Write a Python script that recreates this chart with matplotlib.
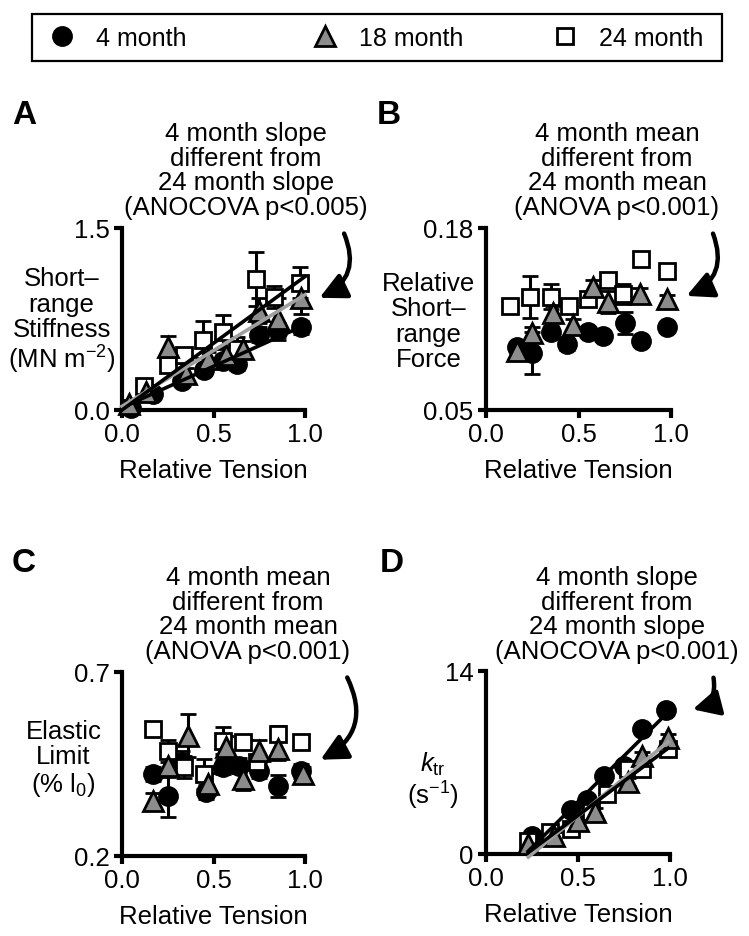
import numpy as np
import matplotlib.pyplot as plt
from matplotlib.patches import FancyArrowPatch, Rectangle
from matplotlib.lines import Line2D

plt.rcParams['font.family'] = ['Liberation Sans', 'DejaVu Sans']
plt.rcParams['font.size'] = 18.5
plt.rcParams['mathtext.fontset'] = 'custom'
plt.rcParams['mathtext.rm'] = 'Liberation Sans'
plt.rcParams['mathtext.it'] = 'Liberation Sans:italic'

groups = ['4 month', '18 month', '24 month']

# ---- Panel A: short-range stiffness
a_x = [[0.05, 0.17, 0.33, 0.45, 0.55, 0.63, 0.75, 0.85, 0.98],
       [0.04, 0.13, 0.25, 0.35, 0.47, 0.57, 0.66, 0.75, 0.85, 0.98],
       [0.12, 0.25, 0.34, 0.44, 0.55, 0.63, 0.73, 0.83, 0.97]]
a_y = [[0.02, 0.13, 0.24, 0.33, 0.40, 0.38, 0.62, 0.66, 0.68],
       [0.05, 0.15, 0.52, 0.30, 0.42, 0.45, 0.50, 0.82, 0.75, 0.92],
       [0.20, 0.37, 0.45, 0.58, 0.64, 0.50, 1.08, 0.93, 1.05]]
a_err = [[0.02, 0.03, 0.03, 0.04, 0.05, 0.05, 0.06, 0.06, 0.05],
         [0.03, 0.03, 0.09, 0.05, 0.06, 0.06, 0.07, 0.10, 0.17, 0.13],
         [0.03, 0.05, 0.06, 0.15, 0.14, 0.10, 0.22, 0.09, 0.13]]
a_fit = [(0.02, 0.68), (0.03, 0.92), (0.00, 1.10)]   # (intercept, slope)

# ---- Panel B: relative short-range force
b_x = [[0.17, 0.25, 0.35, 0.44, 0.55, 0.63, 0.75, 0.84, 0.98],
       [0.17, 0.25, 0.36, 0.47, 0.58, 0.66, 0.83, 0.98],
       [0.13, 0.24, 0.35, 0.45, 0.55, 0.66, 0.74, 0.84, 0.98]]
b_y = [[0.095, 0.091, 0.106, 0.097, 0.106, 0.103, 0.112, 0.099, 0.109],
       [0.092, 0.105, 0.119, 0.111, 0.138, 0.127, 0.133, 0.129],
       [0.124, 0.131, 0.131, 0.124, 0.129, 0.143, 0.133, 0.158, 0.149]]
b_err = [[0.003, 0.015, 0.004, 0.004, 0.003, 0.003, 0.008, 0.003, 0.003],
         [0.003, 0.004, 0.005, 0.004, 0.005, 0.008, 0.004, 0.003],
         [0.004, 0.015, 0.009, 0.004, 0.004, 0.004, 0.007, 0.004, 0.003]]

# ---- Panel C: elastic limit
c_x = [[0.17, 0.25, 0.33, 0.46, 0.55, 0.64, 0.75, 0.85, 0.98],
       [0.17, 0.25, 0.36, 0.47, 0.57, 0.66, 0.75, 0.85, 0.99],
       [0.17, 0.25, 0.34, 0.45, 0.55, 0.66, 0.74, 0.85, 0.98]]
c_y = [[0.423, 0.363, 0.455, 0.374, 0.442, 0.445, 0.431, 0.390, 0.431],
       [0.350, 0.445, 0.527, 0.396, 0.496, 0.409, 0.486, 0.490, 0.423],
       [0.545, 0.486, 0.441, 0.423, 0.513, 0.510, 0.455, 0.532, 0.510]]
c_err = [[0.02, 0.057, 0.03, 0.02, 0.02, 0.02, 0.02, 0.03, 0.02],
         [0.02, 0.03, 0.059, 0.03, 0.03, 0.03, 0.03, 0.03, 0.02],
         [0.019, 0.03, 0.03, 0.04, 0.037, 0.02, 0.02, 0.02, 0.02]]

# ---- Panel D: ktr
d_x = [[0.25, 0.46, 0.55, 0.64, 0.75, 0.85, 0.98],
       [0.23, 0.37, 0.50, 0.59, 0.77, 0.85, 0.99],
       [0.23, 0.35, 0.46, 0.57, 0.66, 0.77, 0.85, 0.99]]
d_y = [[1.4, 3.4, 4.1, 6.0, 6.7, 9.6, 11.0],
       [0.8, 1.4, 2.5, 3.2, 5.5, 7.5, 8.9],
       [1.0, 1.7, 1.9, 3.2, 4.6, 6.5, 6.5, 8.0]]
d_err = [[0.3] * 7, [0.3] * 7, [0.3] * 8]
d_fit = [(-3.0, 14.0), (-2.9, 11.6), (-2.3, 10.5)]

notes = ['4 month slope\ndifferent from\n24 month slope\n(ANOCOVA p<0.005)',
         '4 month mean\ndifferent from\n24 month mean\n(ANOVA p<0.001)',
         '4 month mean\ndifferent from\n24 month mean\n(ANOVA p<0.001)',
         '4 month slope\ndifferent from\n24 month slope\n(ANOCOVA p<0.001)']
ylabels = ['Short\u2013\nrange\nStiffness\n(MN m$^{-2}$)',
           'Relative\nShort\u2013\nrange\nForce',
           'Elastic\nLimit\n(% l$_0$)',
           '$k_{\\rm tr}$\n(s$^{-1}$)']
ylabel_pos = [(-0.33, 0.49), (-0.31, 0.49), (-0.32, 0.53), (-0.29, 0.40)]
letters = ['A', 'B', 'C', 'D']
ylims = [(0.0, 1.5), (0.05, 0.18), (0.2, 0.7), (0, 14)]
yticklabels = [['0.0', '1.5'], ['0.05', '0.18'], ['0.2', '0.7'], ['0', '14']]

styles = [dict(marker='o', mfc='black', ms=13),
          dict(marker='^', mfc='#8c8c8c', ms=14),
          dict(marker='s', mfc='white', ms=11.5)]
fit_colors = ['black', '#a0a0a0', 'black']
draw_order = [0, 2, 1]

W, H = 749, 937
fig = plt.figure(figsize=(W / 100, H / 100), dpi=100)

def px_axes(l, t, r, b):
    return fig.add_axes([l / W, 1 - b / H, (r - l) / W, (b - t) / H])

axes = [px_axes(122, 229, 305, 411), px_axes(486, 229, 671, 411),
        px_axes(122, 673, 305, 857), px_axes(486, 672, 670, 855)]

data = [(a_x, a_y, a_err), (b_x, b_y, b_err), (c_x, c_y, c_err), (d_x, d_y, d_err)]
fits = [a_fit, None, None, d_fit]
fit_x = [(0.0, 1.0), None, None, (0.23, 0.99)]

for k, ax in enumerate(axes):
    xs, ys, es = data[k]
    for g in draw_order:
        ax.errorbar(xs[g], ys[g], yerr=es[g], ls='none', color='black',
                    elinewidth=2.2, capsize=6, capthick=2.2, mec='black', mew=2,
                    clip_on=False, zorder=3, **styles[g])
    if fits[k] is not None:
        xx = np.array(fit_x[k])
        for g in range(3):
            b0, m = fits[k][g]
            ax.plot(xx, b0 + m * xx, color=fit_colors[g], lw=2.6, zorder=4,
                    clip_on=False)
    ax.set_xlim(0, 1)
    ax.set_ylim(*ylims[k])
    ax.set_xticks([0, 0.5, 1.0])
    ax.set_xticklabels(['0.0', '0.5', '1.0'])
    ax.set_yticks(ylims[k])
    ax.set_yticklabels(yticklabels[k])
    for s in ['top', 'right']:
        ax.spines[s].set_visible(False)
    for s in ['left', 'bottom']:
        ax.spines[s].set_linewidth(3)
    ax.tick_params(width=3, length=6, pad=3, labelsize=18.5)
    ax.set_xlabel('Relative Tension', labelpad=8)
    ax.text(ylabel_pos[k][0], ylabel_pos[k][1], ylabels[k],
            transform=ax.transAxes, ha='center', va='center', linespacing=1.08)

# panel letters and notes (figure pixels)
letter_pos = [(24, 116), (389, 116), (24, 563), (392, 563)]
note_pos = [(246, 171), (617, 171), (248, 615), (617, 615)]
for k in range(4):
    fig.text(letter_pos[k][0] / W, 1 - letter_pos[k][1] / H, letters[k],
             fontsize=24, fontweight='bold', ha='center', va='center')
    fig.text(note_pos[k][0] / W, 1 - note_pos[k][1] / H, notes[k],
             ha='center', va='center', linespacing=1.05)

arrows = [((343, 232), (317, 300)), ((712, 232), (684, 298)),
          ((346, 676), (318, 762)), ((713, 676), (690, 711))]
for (x0, y0), (x1, y1) in arrows:
    fig.add_artist(FancyArrowPatch((x0 / W, 1 - y0 / H), (x1 / W, 1 - y1 / H),
                                   transform=fig.transFigure,
                                   connectionstyle='arc3,rad=-0.5',
                                   arrowstyle='-|>,head_length=0.8,head_width=0.4',
                                   lw=3.2, color='black', mutation_scale=20))

# legend: framed strip with three entries
fig.add_artist(Rectangle((32 / W, 1 - 62 / H), 690 / W, 47 / H,
                         transform=fig.transFigure, fill=False, lw=1.6,
                         edgecolor='black'))
legend_x = [62, 325, 565]
for g in range(3):
    h = Line2D([], [], ls='none', mec='black', mew=2, color='black', **styles[g])
    fig.legend([h], [groups[g]], loc='center left', frameon=False,
               bbox_to_anchor=((legend_x[g] - 12.5) / W, 1 - 38.5 / H),
               fontsize=18, handlelength=1.0, handletextpad=0.85,
               borderpad=0, borderaxespad=0)

fig.savefig('out.png', dpi=100)
